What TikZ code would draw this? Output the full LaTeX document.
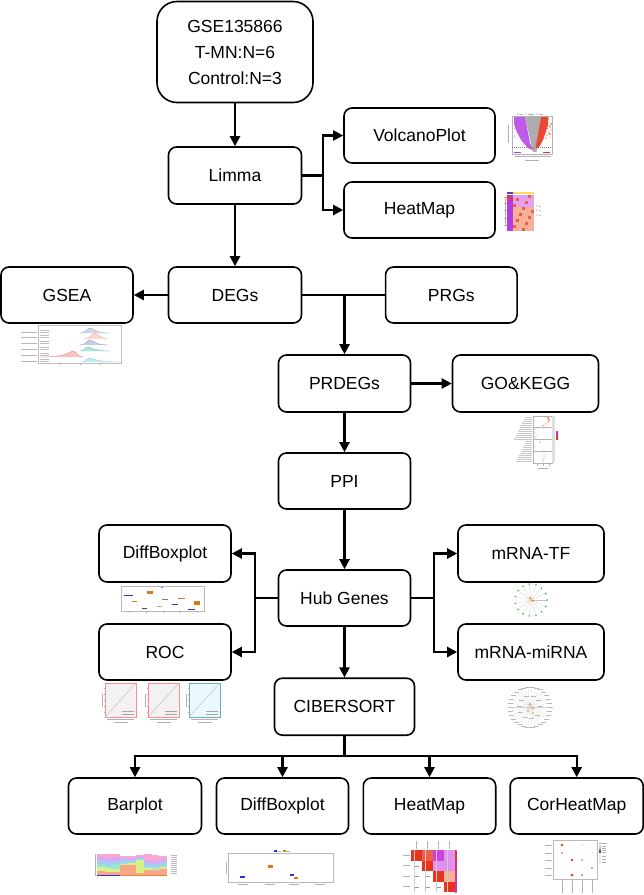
\documentclass[tikz,border=0pt]{standalone}
\usepackage{fontspec}
\setmainfont{Liberation Sans}
\usetikzlibrary{arrows.meta,calc}
\definecolor{vpurple}{HTML}{B43CE6}
\definecolor{vred}{HTML}{E8341C}
\definecolor{hpink}{HTML}{E6A0F0}
\definecolor{hsalmon}{HTML}{F6B09A}
\definecolor{lmag}{HTML}{E090F0}
\definecolor{dmag}{HTML}{D040E0}
\definecolor{ored}{HTML}{F06048}
\definecolor{bpink}{HTML}{F9A8D4}
\definecolor{blilac}{HTML}{D8A8F0}
\definecolor{bblue}{HTML}{A8C8F8}
\definecolor{bcyan}{HTML}{98E4D8}
\definecolor{bgreen}{HTML}{D8F088}
\definecolor{bsalmon}{HTML}{F8A888}
\definecolor{borange}{HTML}{F08030}
\definecolor{boxorange}{HTML}{E07818}
\definecolor{boxblue}{HTML}{3030D0}
\definecolor{rga}{HTML}{9AA6D8}
\definecolor{rgb}{HTML}{F4A898}
\definecolor{rgc}{HTML}{8896C8}
\definecolor{rgd}{HTML}{5CC0B0}
\definecolor{rge}{HTML}{EE7A7A}
\definecolor{rgf}{HTML}{80D0E0}
\newcommand\gsearidge[6]{%
  \fill[#1, fill opacity=0.45] (#2,#5) .. controls (#3-4,#5) and (#3-3,#5-#6) .. (#3,#5-#6) .. controls (#3+3,#5-#6) and (#3+5,#5) .. (#4,#5) -- cycle;
  \draw[#1, line width=0.3pt] (#2,#5) .. controls (#3-4,#5) and (#3-3,#5-#6) .. (#3,#5-#6) .. controls (#3+3,#5-#6) and (#3+5,#5) .. (#4,#5);
}
\newcommand\rocthumb[3]{%
  \begin{scope}[shift={(#1,683)}]
    \fill[#2] (3,0) rectangle (34,34);
    \draw[#3, line width=0.4pt] (3,0) rectangle (34,34);
    \draw[gray!60, line width=0.3pt] (3,34) -- (34,0);
    \draw[gray!60, line width=0.4pt] (0,11) -- (0,24);
    \foreach \t in {5,11,...,29} {\draw[gray!60, line width=0.2pt] (1.5,\t) -- (3,\t);}
    \draw[gray!70, line width=0.5pt] (20,28.5) -- (32,28.5) (20,31) -- (32,31);
    \draw[gray!60, line width=0.3pt] (5,36.5) -- (32,36.5);
    \draw[gray!60, line width=0.4pt] (12,39) -- (26,39);
  \end{scope}}
\tikzset{
  box/.style={draw, line width=1.6pt, rounded corners=8pt, minimum height=56pt,
    minimum width=132pt, inner sep=0pt, font=\fontsize{17.5}{26}\selectfont},
  conn/.style={line width=2.2pt},
  arr/.style={line width=2.2pt, -{Triangle[length=10pt,width=10pt]}},
}
\begin{document}
\begin{tikzpicture}[x=1pt,y=-1pt]
\useasboundingbox (0,0) rectangle (644,895);
\fill[white] (0,0) rectangle (644,895);

% ---------- nodes ----------
\node[box, rounded corners=20pt, minimum width=156pt, minimum height=101pt, align=center] (gse) at (235,52) {GSE135866\\T-MN:N=6\\Control:N=3};
\node[box, minimum width=133pt, minimum height=57pt] (limma) at (235,175.5) {Limma};
\node[box, minimum width=151pt, minimum height=55pt] (volcano) at (419.5,135.5) {VolcanoPlot};
\node[box, minimum width=151pt, minimum height=56pt] (heatmap) at (419.5,210) {HeatMap};
\node[box, minimum width=133pt] (degs) at (235,295) {DEGs};
\node[box] (gsea) at (67,295) {GSEA};
\node[box, minimum width=131.5pt] (prgs) at (451.3,295) {PRGs};
\node[box, minimum height=57pt] (prdegs) at (344.5,383.5) {PRDEGs};
\node[box, minimum width=146pt, minimum height=57pt] (gokegg) at (525.5,383.5) {GO\&KEGG};
\node[box] (ppi) at (344.5,481) {PPI};
\node[box, minimum height=57pt] (diffbox) at (165,553.5) {DiffBoxplot};
\node[box, minimum width=146pt, minimum height=57pt] (mrnatf) at (531,553.5) {mRNA-TF};
\node[box] (hub) at (344.5,598) {Hub Genes};
\node[box] (roc) at (165,652) {ROC};
\node[box, minimum width=146pt] (mirna) at (531,652) {mRNA-miRNA};
\node[box, minimum width=140pt, minimum height=57pt] (ciber) at (344.5,706.7) {CIBERSORT};
\node[box, minimum width=133pt] (barplot) at (135,806) {Barplot};
\node[box] (diffbox2) at (282.5,806) {DiffBoxplot};
\node[box, minimum width=132.4pt] (heatmap2) at (429.5,806) {HeatMap};
\node[box, minimum width=133pt] (corheat) at (576.7,806) {CorHeatMap};

% ---------- connectors ----------
\draw[arr] (gse.south) -- (limma.north);
\coordinate (lj) at (322.7,175.5);
\draw[conn] (limma.east) -- (lj);
\draw[arr] (lj) |- (volcano.west);
\draw[arr] (lj) |- (heatmap.west);
\draw[arr] (limma.south) -- (degs.north);
\draw[arr] (degs.west) -- (gsea.east);
\draw[conn] (degs.east) -- (prgs.west);
\coordinate (dj) at (degs.east -| prdegs.north);
\draw[arr] (dj) -- (prdegs.north);
\draw[arr] (prdegs.east) -- (gokegg.west);
\draw[arr] (prdegs.south) -- (ppi.north);
\draw[arr] (ppi.south) -- (hub.north);
\coordinate (hl) at (255,598);
\coordinate (hr) at (434,598);
\draw[conn] (hub.west) -- (hl);
\draw[arr] (hl) |- (diffbox.east);
\draw[arr] (hl) |- (roc.east);
\draw[conn] (hub.east) -- (hr);
\draw[arr] (hr) |- (mrnatf.west);
\draw[arr] (hr) |- (mirna.west);
\draw[arr] (hub.south) -- (ciber.north);
\coordinate (cb) at (344.5,756);
\draw[conn] (ciber.south) -- (cb);
\draw[arr] (cb) -| (barplot.north);
\draw[arr] (cb) -| (corheat.north);
\draw[arr] (diffbox2.north |- cb) -- (diffbox2.north);
\draw[arr] (heatmap2.north |- cb) -- (heatmap2.north);

% ---------- thumbnails ----------
% volcano
\begin{scope}[shift={(506,113)}]
  \fill[vred] (12,1) circle (0.7pt); \fill[gray] (20,1) circle (0.7pt); \fill[vpurple] (31,1) circle (0.7pt);
  \draw[gray!60, line width=0.3pt] (13.5,1) -- (17,1) (21.5,1) -- (28,1) (32.5,1) -- (37,1);
  \draw[gray!60, line width=0.3pt] (6,3) rectangle (46,41);
  \draw[gray!60, line width=0.4pt] (2,12) -- (2,30);
  \fill[gray!65] (19,4) -- (35,4) -- (30.5,39) -- (27,39) -- cycle;
  \fill[vpurple!85] (8,4) -- (19,4) -- (24,30) -- (27,37) -- (22,35) -- (15,27) -- (10,17) -- (8,11) -- cycle;
  \fill[vred!90] (35,4) -- (42,4) -- (42,12) -- (37,27) -- (32,36) -- (30,33) -- cycle;
  \pgfmathsetseed{11}
  \foreach \i in {1,...,25} {\fill[vpurple!85] ({8+12*rnd},{5+22*rnd}) circle (0.45pt);}
  \foreach \i in {1,...,18} {\fill[vred!90] ({38+7*rnd},{5+20*rnd}) circle (0.45pt);}
  \foreach \p in {(44,14),(45,17),(43,19),(45.5,11),(41,22),(44,21),(40,25)} {\fill[vred] \p circle (0.6pt);}
  \draw[gray, line width=0.3pt, dash pattern=on 1pt off 1pt] (6,34) -- (46,34);
  \draw[vpurple, line width=0.5pt] (8,39.5) -- (15,39.5);
  \draw[vred, line width=0.5pt] (37,39.5) -- (44,39.5);
  \draw[gray!60, line width=0.3pt] (9,43.5) -- (45,43.5);
  \draw[gray!60, line width=0.5pt] (19,47) -- (33,47);
\end{scope}

% heatmap
\begin{scope}[shift={(504,192)}]
  \fill[blue!55!violet!80] (3,0) rectangle (9,2);
  \fill[orange!45!yellow!65] (9,0) rectangle (30,2);
  \draw[gray!60, line width=0.2pt] (0,5) -- (2.5,5) (0,11) -- (2.5,11) (0,18) -- (2.5,18) (0,26) -- (2.5,26) (0,33) -- (2.5,33) (1,5) -- (1,33);
  \foreach \r in {0,...,11}{\foreach \c in {0,...,8}{
    \pgfmathtruncatemacro\k{mod(\r*5+\c*3,7)}
    \ifnum\c<2
      \ifnum\r<3 \ifnum\k<3 \def\cc{vred}\else\def\cc{vpurple}\fi \else\def\cc{vpurple}\fi
    \else
      \ifnum\r<4 \ifnum\k=0 \def\cc{vred!80}\else\def\cc{hpink}\fi \else \ifnum\k=0 \def\cc{vred!80}\else\def\cc{hsalmon}\fi\fi
    \fi
    \fill[\cc] (3+3*\c,3+3*\r) rectangle ++(3,3);
  }}
  \fill[blue!60] (33,14) circle (0.7pt);
  \fill[vred] (33,18) circle (0.7pt);
  \fill[vpurple] (33,23) circle (0.7pt);
  \draw[gray!50, line width=0.2pt] (34.5,14) -- (37,14) (34.5,18) -- (37,18) (34.5,23) -- (37,23);
\end{scope}

% GSEA ridges
\begin{scope}[shift={(18,325)}]
  \draw[gray!50, line width=0.3pt] (20,0) rectangle (103,38);
  \foreach \yy in {7,12,18,24,30,36} {
    \draw[gray!55, line width=0.4pt] (3,\yy) -- (19,\yy);
    \draw[gray!50, line width=0.3pt] (22,\yy-1.6) -- (31,\yy-1.6) (22,\yy+0.2) -- (31,\yy+0.2);}
  \gsearidge{rga}{62}{72}{92}{8}{5}
  \gsearidge{rgb}{65}{77}{90}{14}{6}
  \gsearidge{rgc}{62}{72}{90}{20}{5}
  \gsearidge{rgd}{62}{70}{93}{26}{4}
  \gsearidge{rge}{22}{55}{65}{32}{6}
  \gsearidge{rgf}{63}{72}{102}{37}{4}
  \foreach \xx in {42,62,82} {\draw[gray!60, line width=0.3pt] (\xx,38) -- (\xx,40);}
\end{scope}

% GO & KEGG dot plot
\begin{scope}[shift={(507,415)}]
  \foreach \yy in {2,4,...,46} {\draw[gray!45, line width=0.25pt] ({19-mod(\yy*7,13)},\yy) -- (25,\yy);}
  \draw[gray!60, line width=0.3pt] (26,1) rectangle (45,48);
  \draw[gray!60, line width=0.3pt] (26,12) -- (45,12) (26,24) -- (45,24) (26,36) -- (45,36);
  \fill[gray!25] (45,1) rectangle (48,48);
  \foreach \p/\s in {(41,3)/0.8,(42,5)/0.8,(41,7)/0.7,(39,9)/0.7,(36,10.5)/0.7} {\fill[vred] \p circle (\s pt);}
  \foreach \p in {(28,14),(28,17),(29,20),(28,22)} {\fill[dmag] \p circle (0.5pt);}
  \fill[vred] (33,27) circle (0.7pt); \fill[dmag] (28,31) circle (0.5pt);
  \foreach \p in {(37,39),(37,42),(36,44),(36,46)} {\fill[vred] \p circle (0.5pt);}
  \shade[top color=vpurple, bottom color=vred] (49,16) rectangle (51,24);
  \draw[gray!60, line width=0.3pt] (30,49) -- (30,50.5) (36,49) -- (36,50.5) (42,49) -- (42,50.5) (31,53) -- (41,53);
\end{scope}

% DiffBoxplot (hub genes)
\begin{scope}[shift={(121,586)}]
  \draw[gray!55, line width=0.3pt] (0,0) rectangle (83,25);
  \fill[boxblue] (3,8.5) rectangle (12,9.5);
  \fill[boxorange] (26,5) rectangle (32,8);
  \fill[gray] (41,13) rectangle (47,13.8);
  \fill[boxorange] (57,11.5) rectangle (64,13);
  \fill[boxorange] (11,14.5) rectangle (16,16);
  \fill[black!70] (21,21.5) rectangle (26,22.3);
  \fill[gray!70] (36,19.5) rectangle (41,20.3);
  \fill[boxblue] (51,17.5) rectangle (57,18.8);
  \fill[boxorange] (73,14.5) rectangle (79,19);
  \fill[boxblue] (67,23.2) rectangle (74,24.3);
  \fill[blue!60] (40,0.8) rectangle (41.5,1.8);
  \draw[gray!60, line width=0.2pt] (8,25) -- (8,26.5) (25,25) -- (25,26.5) (42,25) -- (42,26.5) (59,25) -- (59,26.5) (76,25) -- (76,26.5);
\end{scope}

% mRNA-TF network
\begin{scope}[shift={(531,600)}]
  \foreach \a in {0,24,...,336} {
    \draw[gray!45, line width=0.2pt] (0,0) -- (\a:16pt);
    \fill[green!45!gray] (\a:16pt) circle (0.9pt);}
  \fill[orange] (-1,-2) circle (1.2pt);
  \fill[orange] (2,0.5) circle (1.1pt);
\end{scope}

% ROC curves
\rocthumb{102}{red!8!gray!10}{red!45}
\rocthumb{145}{red!8!gray!10}{red!45}
\rocthumb{186}{cyan!8}{teal!60}

% mRNA-miRNA network
\begin{scope}[shift={(530,707)}]
  \foreach \a in {0,12,...,348} {
    \draw[gray!35, line width=0.2pt] (0,0) -- (\a:18pt);
    \draw[gray!55, line width=0.5pt] ($(\a:20pt)+(-2.5,0)$) -- ++(5,0);}
  \foreach \a in {6,40,...,336} {\draw[gray!55, line width=0.5pt] ($(\a:11pt)+(-2.5,0)$) -- ++(5,0);}
  \fill[orange] (0,-3) circle (1pt);
  \fill[orange] (3,1) circle (1pt);
  \fill[orange] (-2,4) circle (0.9pt);
  \fill[orange] (3,6) circle (0.9pt);
\end{scope}

% Barplot
\begin{scope}[shift={(92,853)}]
  \foreach \i/\t/\ya/\yb/\yc/\yd/\ye in {0/1/4/7/11/14/18, 1/1/5/8/12/15/19, 2/1/4/8/11/16/19,
      3/3/5/6/9/11/12, 4/3/5/7/9/10/12, 5/2/3/5/6/7/20, 6/1/7/10/13/15/17, 7/2/8/11/14/16/17, 8/3/6/9/12/14/16} {
    \pgfmathsetmacro\xa{5+7.8*\i}
    \fill[bpink] (\xa,\t) rectangle ++(7.8,\ya-\t);
    \fill[blilac] (\xa,\ya) rectangle ++(7.8,\yb-\ya);
    \fill[bblue] (\xa,\yb) rectangle ++(7.8,\yc-\yb);
    \fill[bcyan] (\xa,\yc) rectangle ++(7.8,\yd-\yc);
    \fill[bgreen] (\xa,\yd) rectangle ++(7.8,\ye-\yd);
    \fill[bsalmon] (\xa,\ye) rectangle ++(7.8,22-\ye);
    \fill[borange] (\xa,22) rectangle ++(7.8,1);}
  \fill[boxblue] (5,22) rectangle (28,23);
  \draw[gray!60, line width=0.3pt] (3,1) -- (3,23);
  \foreach \yy in {2,4,...,20} {\draw[gray!55, line width=0.4pt] (79,\yy) -- (85,\yy);}
\end{scope}

% DiffBoxplot (CIBERSORT)
\begin{scope}[shift={(228,850)}]
  \draw[gray!55, line width=0.3pt] (0,3) rectangle (105,32);
  \fill[boxblue] (46,0.3) rectangle (48.5,2);
  \fill[boxorange] (55,0.3) rectangle (57.5,2);
  \draw[gray!60, line width=0.3pt] (49,1.2) -- (53,1.2) (58,1.2) -- (62,1.2);
  \fill[boxorange] (40,15) rectangle (45,18);
  \fill[boxblue] (12,26) rectangle (17,28);
  \fill[boxblue] (62,24) rectangle (66,25.5);
  \fill[boxorange] (66,27) rectangle (70,29);
  \draw[gray!60, line width=0.3pt] (-2,12) -- (-2,24);
  \foreach \xx in {15,42,66,92} {\draw[gray!60, line width=0.4pt] (\xx-5,34.5) -- (\xx+5,34.5);}
\end{scope}

% Correlation heatmap
\begin{scope}[shift={(403,840)}]
  \foreach \r/\c/\cl in {0/0/vred, 0/1/ored, 0/2/dmag, 0/3/lmag, 1/1/vred, 1/2/lmag, 1/3/lmag, 2/2/vred, 2/3/hsalmon, 3/3/vred} {
    \fill[\cl] (8+11*\c,10+10.5*\r) rectangle ++(11,10.5);}
  \foreach \r/\c in {1/0, 2/0, 2/1, 3/0, 3/1, 3/2} {
    \draw[gray!80, line width=0.5pt] (11+11*\c,15.25+10.5*\r) -- ++(5,0);}
  \draw[gray!40, line width=0.2pt] (8,10) grid[xstep=11,ystep=10.5] (52,52);
  \shade[top color=vred, bottom color=vpurple] (52,10) rectangle (53.5,52);
  \foreach \c in {0,...,3} {\draw[gray!60, line width=0.3pt] (13.5+11*\c,1) -- (13.5+11*\c,9);}
  \foreach \r in {0,...,3} {\draw[gray!60, line width=0.3pt] (0,15+10.5*\r) -- (7,15+10.5*\r);}
\end{scope}

% CorHeatMap dot plot
\begin{scope}[shift={(550,840)}]
  \draw[gray!55, line width=0.3pt] (3,0) rectangle (47,39);
  \foreach \yy in {5,13,20,28,35} {\draw[gray!60, line width=0.4pt] (-5,\yy) -- (1.5,\yy);}
  \foreach \xx in {12,22,32,42} {\draw[gray!60, line width=0.4pt] (\xx,40) -- (\xx,53);}
  \fill[vred] (12,5) circle (1.4pt);
  \fill[vred!60] (32,5) circle (0.6pt);
  \fill[dmag] (12,13) circle (0.9pt);
  \fill[vred!50] (42,13) circle (0.6pt);
  \fill[vred] (22,20) circle (1.3pt);
  \fill[dmag] (32,20) circle (0.9pt);
  \fill[vred!25] (22,28) circle (0.7pt);
  \fill[vred] (42,28) circle (0.8pt);
  \fill[vred] (22,35) circle (1.5pt);
  \fill[dmag] (32,35) circle (1.0pt);
  \foreach \yy/\s in {6/0.5,8/0.7,10/0.9,12/1.1} {\fill[black] (50,\yy) circle (\s pt);}
  \fill[vred] (50,16) circle (0.7pt); \fill[red!50] (50,18) circle (0.7pt); \fill[dmag] (50,22) circle (0.7pt);
  \draw[gray!60, line width=0.3pt] (49,3) -- (57,3) (52,6) -- (56,6) (52,8) -- (56,8) (52,10) -- (56,10) (52,12) -- (56,12) (52,16) -- (56,16) (52,19) -- (56,19) (52,22) -- (56,22);
\end{scope}
\end{tikzpicture}
\end{document}
